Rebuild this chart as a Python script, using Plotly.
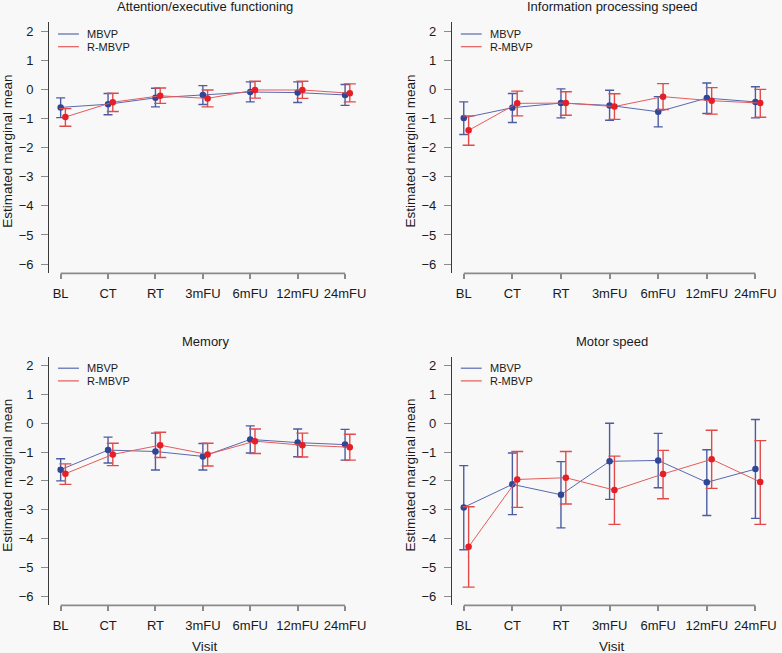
import plotly.graph_objects as go

# ---------------- data ----------------
visits = ["BL", "CT", "RT", "3mFU", "6mFU", "12mFU", "24mFU"]
groups = ["MBVP", "R-MBVP"]
panel_titles = ["Attention/executive functioning", "Information processing speed",
                "Memory", "Motor speed"]
y_ticks = [-6, -5, -4, -3, -2, -1, 0, 1, 2]

att_mbvp = [-0.61, -0.50, -0.28, -0.18, -0.08, -0.10, -0.18]
att_mbvp_lo = [-0.96, -0.86, -0.59, -0.51, -0.42, -0.44, -0.54]
att_mbvp_hi = [-0.28, -0.13, 0.05, 0.14, 0.27, 0.27, 0.18]
att_rmbvp = [-0.94, -0.43, -0.21, -0.30, -0.01, -0.01, -0.12]
att_rmbvp_lo = [-1.26, -0.75, -0.47, -0.59, -0.29, -0.30, -0.42]
att_rmbvp_hi = [-0.65, -0.12, 0.06, -0.01, 0.29, 0.29, 0.20]

ips_mbvp = [-0.97, -0.62, -0.46, -0.54, -0.76, -0.29, -0.42]
ips_mbvp_lo = [-1.54, -1.13, -0.97, -1.05, -1.28, -0.82, -0.97]
ips_mbvp_hi = [-0.42, -0.13, 0.03, -0.02, -0.24, 0.23, 0.10]
ips_rmbvp = [-1.40, -0.47, -0.46, -0.58, -0.24, -0.38, -0.46]
ips_rmbvp_lo = [-1.91, -0.90, -0.88, -1.02, -0.68, -0.84, -0.95]
ips_rmbvp_hi = [-0.90, -0.05, -0.07, -0.14, 0.21, 0.07, 0.01]

mem_mbvp = [-1.61, -0.93, -0.98, -1.15, -0.56, -0.67, -0.74]
mem_mbvp_lo = [-2.00, -1.38, -1.62, -1.62, -1.03, -1.16, -1.28]
mem_mbvp_hi = [-1.23, -0.48, -0.34, -0.70, -0.09, -0.20, -0.21]
mem_rmbvp = [-1.75, -1.08, -0.76, -1.08, -0.62, -0.76, -0.83]
mem_rmbvp_lo = [-2.12, -1.47, -1.19, -1.48, -1.05, -1.17, -1.28]
mem_rmbvp_hi = [-1.41, -0.69, -0.31, -0.69, -0.20, -0.34, -0.38]

mot_mbvp = [-2.92, -2.12, -2.48, -1.32, -1.29, -2.05, -1.59]
mot_mbvp_lo = [-4.39, -3.17, -3.63, -2.64, -2.24, -3.20, -3.30]
mot_mbvp_hi = [-1.47, -1.03, -1.33, 0.00, -0.35, -0.92, 0.13]
mot_rmbvp = [-4.29, -1.95, -1.89, -2.32, -1.76, -1.25, -2.04]
mot_rmbvp_lo = [-5.69, -2.92, -2.80, -3.51, -2.62, -2.26, -3.51]
mot_rmbvp_hi = [-2.90, -0.98, -0.98, -1.14, -0.94, -0.24, -0.60]

panels = [
    [(att_mbvp, att_mbvp_lo, att_mbvp_hi), (att_rmbvp, att_rmbvp_lo, att_rmbvp_hi)],
    [(ips_mbvp, ips_mbvp_lo, ips_mbvp_hi), (ips_rmbvp, ips_rmbvp_lo, ips_rmbvp_hi)],
    [(mem_mbvp, mem_mbvp_lo, mem_mbvp_hi), (mem_rmbvp, mem_rmbvp_lo, mem_rmbvp_hi)],
    [(mot_mbvp, mot_mbvp_lo, mot_mbvp_hi), (mot_rmbvp, mot_rmbvp_lo, mot_rmbvp_hi)],
]

# ---------------- style ----------------
W, H = 782, 653
BG = "#f8f8f8"
FONT = "Liberation Sans, Arial, Helvetica, sans-serif"
TXT = "#1a1a1a"
marker_cols = ["#2f4596", "#e41f27"]
line_cols = ["#5868b0", "#e65a5a"]
err_cols = ["#4b5ca3", "#e24a4a"]
cap_w = [4.5, 6]
offsets = [0.0, 0.1]

def px(x):
    return x / W

def py(y):
    return 1 - y / H

# panel pixel geometry: (left, right, top, bottom)
geom = [
    (49.4, 363.7, 22.3, 273.3),
    (454.8, 777.1, 22.3, 273.3),
    (49.4, 363.7, 356.5, 605.3),
    (454.8, 777.1, 356.5, 605.3),
]
xrange_ = [0.756, 7.344]
yrange_ = [-6.32, 2.32]

fig = go.Figure()
layout = dict(
    width=W, height=H,
    paper_bgcolor=BG, plot_bgcolor=BG,
    margin=dict(l=0, r=0, t=0, b=0),
    showlegend=False,
    font=dict(family=FONT, size=13, color=TXT),
)
shapes = []
annotations = []

for p in range(4):
    suf = "" if p == 0 else str(p + 1)
    xa, ya = "x" + suf, "y" + suf
    L, R, T, B = geom[p]
    for g in range(2):
        vals, lo, hi = panels[p][g]
        xs = [i + 1 + offsets[g] for i in range(len(visits))]
        fig.add_trace(go.Scatter(
            x=xs, y=vals, name=groups[g], xaxis=xa, yaxis=ya,
            mode="lines+markers",
            line=dict(color=line_cols[g], width=1),
            marker=dict(color=marker_cols[g], size=6.5),
            error_y=dict(type="data", symmetric=False,
                         array=[h - v for h, v in zip(hi, vals)],
                         arrayminus=[v - l for l, v in zip(lo, vals)],
                         color=err_cols[g], thickness=1.4, width=cap_w[g]),
        ))
    layout["xaxis" + suf] = dict(
        domain=[px(L), px(R)], anchor=ya, range=xrange_,
        tickmode="array", tickvals=list(range(1, len(visits) + 1)), ticktext=visits,
        showgrid=False, zeroline=False, showline=False,
        ticks="outside", ticklen=5, tickwidth=1.5, tickcolor="#8a8a8a",
        tickfont=dict(size=13, color=TXT), ticklabelstandoff=3,
    )
    layout["yaxis" + suf] = dict(
        domain=[py(B), py(T)], anchor=xa, range=yrange_,
        tickmode="array", tickvals=y_ticks,
        showgrid=False, zeroline=False, showline=True,
        linecolor="#3a3a3a", linewidth=1,
        ticks="outside", ticklen=7, tickwidth=1.2, tickcolor="#8a8a8a",
        tickfont=dict(size=13, color=TXT), ticklabelstandoff=5,
    )
    # x axis line between first and last tick (R style)
    shapes.append(dict(type="line", xref=xa, yref=ya + " domain",
                       x0=1, x1=len(visits), y0=0, y1=0,
                       line=dict(color="#8a8a8a", width=1.8)))
    # panel title
    annotations.append(dict(text=panel_titles[p], xref="paper", yref="paper",
                            x=px((L + R) / 2), y=py(T - 15.5), showarrow=False,
                            xanchor="center", yanchor="middle",
                            font=dict(size=13, color=TXT)))
    # y-axis title
    annotations.append(dict(text="Estimated marginal mean", xref="paper", yref="paper",
                            x=px(L - 41.5), y=py((T + B) / 2 + (3 if p < 2 else -6)),
                            textangle=-90, showarrow=False,
                            xanchor="center", yanchor="middle",
                            font=dict(size=13.5, color=TXT)))
    # x-axis title only for the bottom panels
    if p >= 2:
        annotations.append(dict(text="Visit", xref="paper", yref="paper",
                                x=px((L + R) / 2), y=py(646), showarrow=False,
                                xanchor="center", yanchor="middle",
                                font=dict(size=13.5, color=TXT)))
    # legend (line samples + labels)
    for g in range(2):
        yy = T + 11.7 + 12.7 * g
        shapes.append(dict(type="line", xref="paper", yref="paper",
                           x0=px(L + 9), x1=px(L + 30), y0=py(yy), y1=py(yy),
                           line=dict(color=line_cols[g], width=1.2)))
        annotations.append(dict(text=groups[g], xref="paper", yref="paper",
                                x=px(L + 36), y=py(yy), showarrow=False,
                                xanchor="left", yanchor="middle",
                                font=dict(size=11, color=TXT)))

layout["shapes"] = shapes
layout["annotations"] = annotations
fig.update_layout(**layout)
fig.write_html(
    "out.html",
    config={"displayModeBar": False},
    post_script="document.body.style.margin='0px';document.body.style.overflow='hidden';",
)
